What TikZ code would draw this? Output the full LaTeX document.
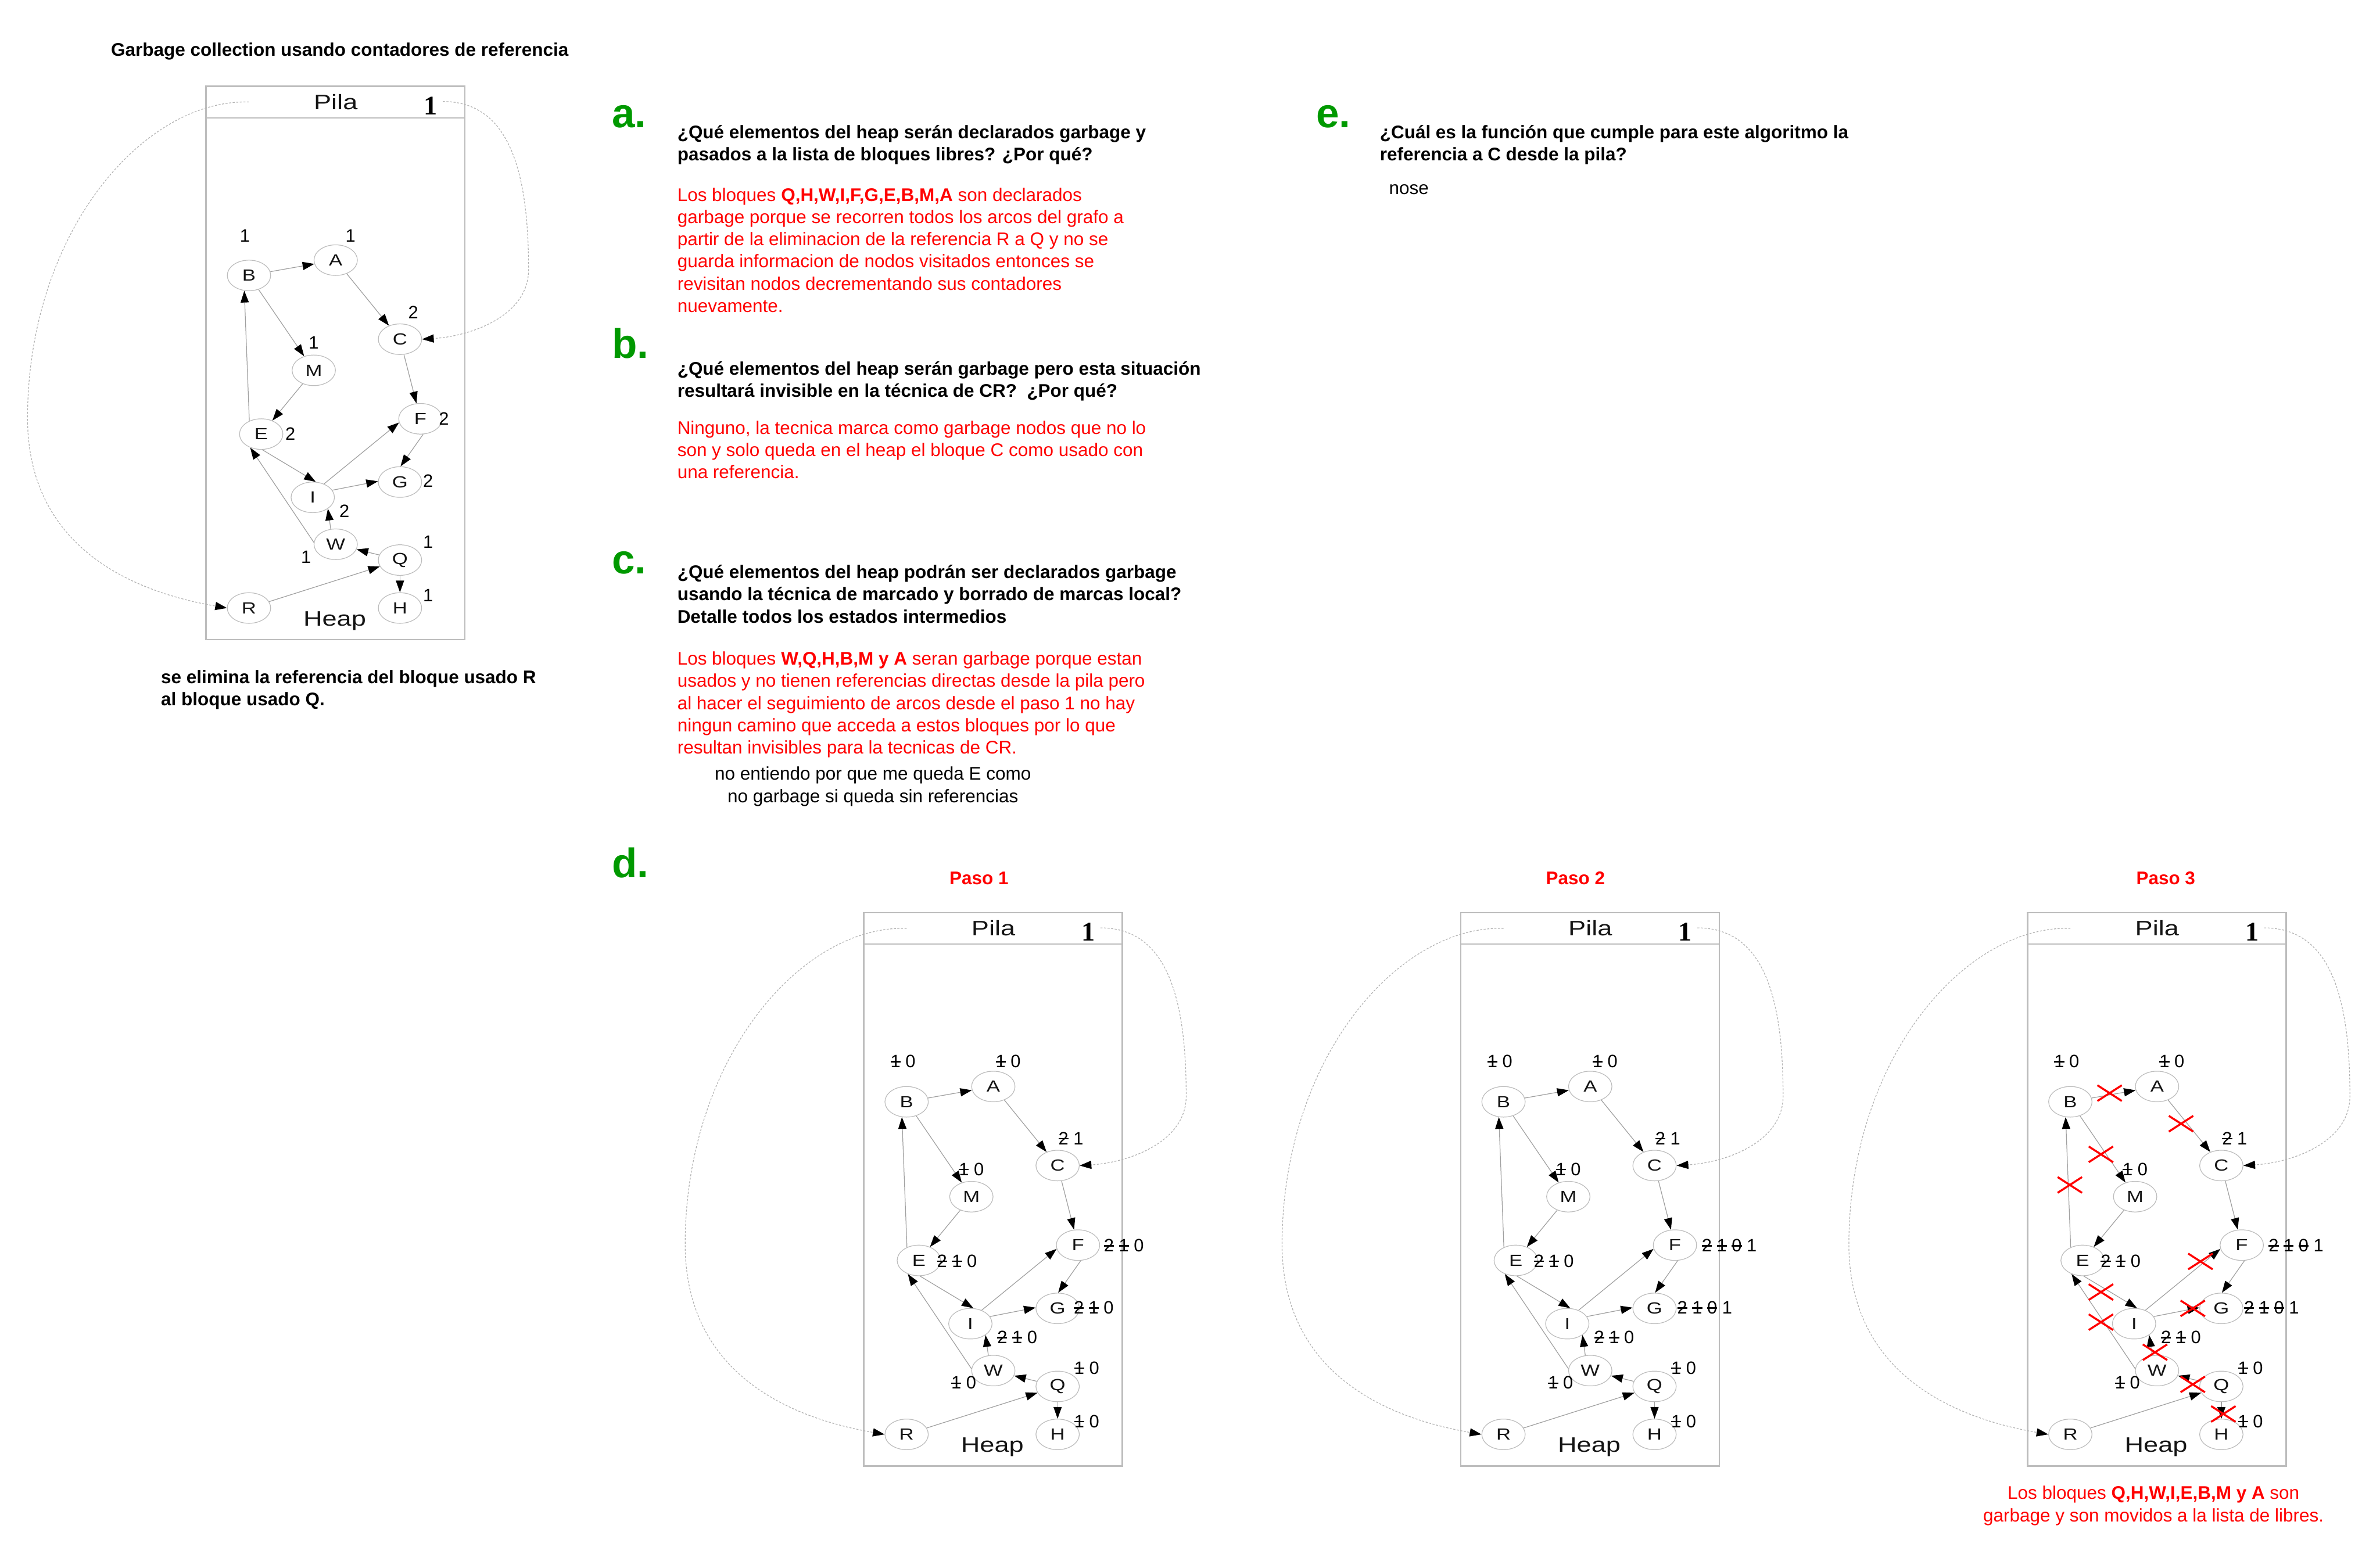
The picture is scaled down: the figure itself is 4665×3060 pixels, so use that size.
\documentclass[tikz,border=0pt]{standalone}
\usepackage{fontspec}
\setmainfont{Liberation Sans}
\newfontfamily\grafofont[FakeStretch=1.25]{Liberation Sans}
\newfontfamily\unofont{Liberation Serif}
\usetikzlibrary{arrows.meta, shapes.geometric, shapes.misc}
\definecolor{verdeLetra}{HTML}{009900}
\definecolor{grisLinea}{HTML}{A0A0A0}
\definecolor{grisBorde}{HTML}{BDBDBD}
\definecolor{rojoResp}{HTML}{FF0000}
\newsavebox{\cajatach}
\newcommand{\tachado}[1]{\sbox{\cajatach}{#1}\rlap{\rule[0.3em]{\wd\cajatach}{0.07em}}\usebox{\cajatach}}
\tikzset{
  texto/.style={anchor=base west, align=left, inner sep=0pt, font=\fontsize{10.2}{12.4}\selectfont},
  pregunta/.style={texto, font=\fontsize{10.2}{12.4}\selectfont\bfseries},
  respuesta/.style={texto, text=rojoResp},
  inciso/.style={anchor=base west, inner sep=0pt, text=verdeLetra, font=\fontsize{23}{23}\selectfont\bfseries},
  pasotit/.style={anchor=base, inner sep=0pt, text=rojoResp, font=\fontsize{10.2}{12.4}\selectfont\bfseries},
  bloque/.style={ellipse, draw=grisBorde, line width=0.4pt, minimum width=8.5mm, minimum height=6mm, inner sep=0pt, text=black!92, font=\grafofont\fontsize{9}{9}\selectfont},
  rotulo/.style={inner sep=0pt, text=black!92, font=\grafofont\fontsize{11.7}{11.7}\selectfont},
  cuenta/.style={inner sep=0pt, font=\fontsize{10}{10}\selectfont},
  arco/.style={draw=grisLinea, line width=0.4pt, -{Triangle[length=2.3mm, width=1.6mm, color=black]}},
  refpila/.style={draw=grisLinea!80, line width=0.4pt, dash pattern=on 0.4mm off 0.3mm, -{Triangle[length=2.3mm, width=1.6mm, color=black]}},
  marco/.style={draw=grisBorde, line width=0.8pt},
  cruz/.style={cross out, draw=rojoResp, line width=1.1pt, minimum width=4.4mm, minimum height=2.7mm, inner sep=0pt},
  pics/grafo/.style={code={
    \draw[marco] (0,0) rectangle (507,1085);
    \draw[marco] (0,62) -- (507,62);
    \node[rotulo] (-pila) at (254,31) {Pila};
    \node[inner sep=0pt, font=\unofont\bfseries\fontsize{15}{15}\selectfont] (-uno) at (440,38) {1};
    \node[rotulo] (-heap) at (252,1048) {Heap};
    \node[bloque] (-B) at (84,371) {B};
    \node[bloque] (-A) at (254,341) {A};
    \node[bloque] (-C) at (380,496) {C};
    \node[bloque] (-M) at (211,557) {M};
    \node[bloque] (-E) at (108,682) {E};
    \node[bloque] (-F) at (420,652) {F};
    \node[bloque] (-G) at (380,776) {G};
    \node[bloque] (-I) at (209,806) {I};
    \node[bloque] (-W) at (254,898) {W};
    \node[bloque] (-Q) at (380,929) {Q};
    \node[bloque] (-R) at (84,1023) {R};
    \node[bloque] (-H) at (380,1023) {H};
    \coordinate (-salR) at (84,31);
    \coordinate (-salC) at (464,30);
    \draw[arco] (-B) -- (-A);
    \draw[arco] (-A) -- (-C);
    \draw[arco] (-B) -- (-M);
    \draw[arco] (-M) -- (-E);
    \draw[arco] (-E.132) -- (-B.-107);
    \draw[arco] (-C) -- (-F);
    \draw[arco] (-F.-80) -- (-G.88);
    \draw[arco] (-E.-86) -- (-I.79);
    \draw[arco] (-I.50) -- (-F.190);
    \draw[arco] (-I.20) -- (-G.178);
    \draw[arco] (-W.108) -- (-I.-37);
    \draw[arco] (-W.175) -- (-E.-129);
    \draw[arco] (-Q) -- (-W);
    \draw[arco] (-Q) -- (-H);
    \draw[arco] (-R) -- (-Q);
    \draw[refpila] (-salR) .. controls (-120,25) and (-345,280) .. (-350,640)
      .. controls (-355,900) and (-150,990) .. (-R.west);
    \draw[refpila] (-salC) .. controls (600,30) and (632,180) .. (632,360)
      .. controls (632,450) and (520,490) .. (-C.east);
  }},
}

\begin{document}
\begin{tikzpicture}[x=0.1mm, y=-0.1mm]
  \useasboundingbox (0,0) rectangle (4665,3060);

  % grafo original (texto de varias lineas: base = ultima linea)
  \node[pregunta] (titulo) at (217,110) {Garbage collection usando contadores de referencia};
  \pic (g0) at (404,169) {grafo};
  \begin{scope}[shift={(404,169)}]
    \node[cuenta] (g0-nB) at (76,293) {1};
    \node[cuenta] (g0-nA) at (283,293) {1};
    \node[cuenta] (g0-nC) at (406,443) {2};
    \node[cuenta] (g0-nM) at (211,503) {1};
    \node[cuenta] (g0-nE) at (165,682) {2};
    \node[cuenta] (g0-nF) at (466,652) {2};
    \node[cuenta] (g0-nG) at (435,774) {2};
    \node[cuenta] (g0-nI) at (271,833) {2};
    \node[cuenta] (g0-nW) at (196,923) {1};
    \node[cuenta] (g0-nQ) at (435,893) {1};
    \node[cuenta] (g0-nH) at (435,998) {1};
  \end{scope}
  \node[pregunta] (nota) at (315,1383) {se elimina la referencia del bloque usado R\\al bloque usado Q.};

  % preguntas
  \node[inciso] (la) at (1199,250) {a.};
  \node[pregunta] (qa) at (1327,315) {¿Qué elementos del heap serán declarados garbage y\\pasados a la lista de bloques libres? ¿Por qué?};
  \node[respuesta] (ra) at (1327,612) {Los bloques \textbf{Q,H,W,I,F,G,E,B,M,A} son declarados\\garbage porque se recorren todos los arcos del grafo a\\partir de la eliminacion de la referencia R a Q y no se\\guarda informacion de nodos visitados entonces se\\revisitan nodos decrementando sus contadores\\nuevamente.};
  \node[inciso] (lb) at (1199,702) {b.};
  \node[pregunta] (qb) at (1327,779) {¿Qué elementos del heap serán garbage pero esta situación\\resultará invisible en la técnica de CR?\ \ ¿Por qué?};
  \node[respuesta] (rb) at (1327,938) {Ninguno, la tecnica marca como garbage nodos que no lo\\son y solo queda en el heap el bloque C como usado con\\una referencia.};
  \node[inciso] (lc) at (1199,1125) {c.};
  \node[pregunta] (qc) at (1327,1221) {¿Qué elementos del heap podrán ser declarados garbage\\usando la técnica de marcado y borrado de marcas local?\\Detalle todos los estados intermedios};
  \node[respuesta] (rc) at (1327,1478) {Los bloques \textbf{W,Q,H,B,M y A} seran garbage porque estan\\usados y no tienen referencias directas desde la pila pero\\al hacer el seguimiento de arcos desde el paso 1 no hay\\ningun camino que acceda a estos bloques por lo que\\resultan invisibles para la tecnicas de CR.};
  \node[texto, anchor=base, align=center] (dudac) at (1711,1573) {no entiendo por que me queda E como\\no garbage si queda sin referencias};
  \node[inciso] (ld) at (1199,1720) {d.};
  \node[inciso] (le) at (2579,250) {e.};
  \node[pregunta] (qe) at (2704,315) {¿Cuál es la función que cumple para este algoritmo la\\referencia a C desde la pila?};
  \node[texto] (re) at (2722,381) {nose};

  % pasos del marcado
  \node[pasotit] (tp1) at (1919,1734) {Paso 1};
  \node[pasotit] (tp2) at (3088,1734) {Paso 2};
  \node[pasotit] (tp3) at (4245,1734) {Paso 3};
  \pic (p1) at (1693,1789) {grafo};
  \pic (p2) at (2863,1789) {grafo};
  \pic (p3) at (3974,1789) {grafo};
  \foreach \px/\pn in {1693/p1, 2863/p2, 3974/p3}{
    \begin{scope}[shift={(\px,1789)}]
      \node[cuenta] (\pn-nB) at (77,292) {\tachado{1} 0};
      \node[cuenta] (\pn-nA) at (283,292) {\tachado{1} 0};
      \node[cuenta] (\pn-nC) at (406,443) {\tachado{2} 1};
      \node[cuenta] (\pn-nM) at (211,503) {\tachado{1} 0};
      \node[cuenta, anchor=west] (\pn-nE) at (143,683) {\tachado{2} \tachado{1} 0};
      \node[cuenta, anchor=west] (\pn-nI) at (261,833) {\tachado{2} \tachado{1} 0};
      \node[cuenta] (\pn-nW) at (196,922) {\tachado{1} 0};
      \node[cuenta] (\pn-nQ) at (437,893) {\tachado{1} 0};
      \node[cuenta] (\pn-nH) at (437,998) {\tachado{1} 0};
    \end{scope}
  }
  \begin{scope}[shift={(1693,1789)}]
    \node[cuenta, anchor=west] (p1-nF) at (470,653) {\tachado{2} \tachado{1} 0};
    \node[cuenta, anchor=west] (p1-nG) at (411,775) {\tachado{2} \tachado{1} 0};
  \end{scope}
  \begin{scope}[shift={(2863,1789)}]
    \node[cuenta, anchor=west] (p2-nF) at (472,653) {\tachado{2} \tachado{1} \tachado{0} 1};
    \node[cuenta, anchor=west] (p2-nG) at (424,775) {\tachado{2} \tachado{1} \tachado{0} 1};
  \end{scope}
  \begin{scope}[shift={(3974,1789)}]
    \node[cuenta, anchor=west] (p3-nF) at (472,653) {\tachado{2} \tachado{1} \tachado{0} 1};
    \node[cuenta, anchor=west] (p3-nG) at (424,775) {\tachado{2} \tachado{1} \tachado{0} 1};
    % arcos cortados
    \node[cruz] (x1) at (161,354) {};
    \node[cruz] (x2) at (301,414) {};
    \node[cruz] (x3) at (144,474) {};
    \node[cruz] (x4) at (83,534) {};
    \node[cruz] (x5) at (339,684) {};
    \node[cruz] (x6) at (144,744) {};
    \node[cruz] (x7) at (324,776) {};
    \node[cruz] (x8) at (144,803) {};
    \node[cruz] (x9) at (250,862) {};
    \node[cruz] (x10) at (324,925) {};
    \node[cruz] (x11) at (384,983) {};
  \end{scope}
  \node[respuesta, anchor=base, align=center] (rfin) at (4221,2983) {Los bloques \textbf{Q,H,W,I,E,B,M y A} son\\garbage y son movidos a la lista de libres.};
\end{tikzpicture}
\end{document}
